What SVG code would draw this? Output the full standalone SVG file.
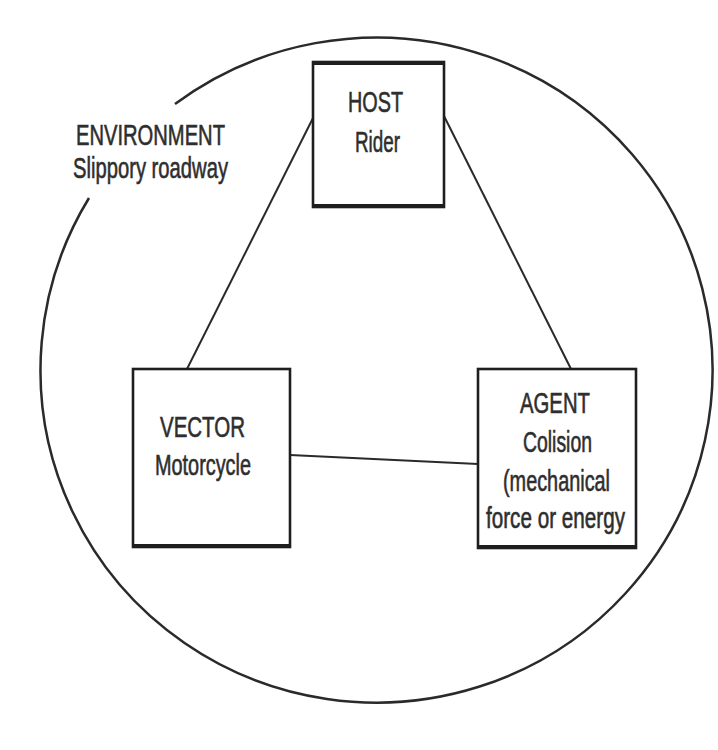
<svg xmlns="http://www.w3.org/2000/svg" width="718" height="750" viewBox="0 0 718 750">
<style>
  .box { fill: #ffffff; stroke: #1e1e1e; stroke-width: 2.6; }
  .edge { stroke: #1e1e1e; stroke-width: 4; }
  .conn { stroke: #2a2a2a; stroke-width: 2; fill: none; }
  .env { stroke: #2a2a2a; stroke-width: 2.5; fill: none; }
  text { font-family: "Liberation Sans", Arial, sans-serif; font-size: 29px; fill: #2e2e2e; stroke: #2e2e2e; stroke-width: 0.6; text-anchor: middle; }
</style>
<rect width="718" height="750" fill="#ffffff"/>
<g id="environment">
  <path class="env" d="M175,104 A336,332.5 0 1 1 89,198"/>
  <text x="150.5" y="145" textLength="149" lengthAdjust="spacingAndGlyphs">ENVIRONMENT</text>
  <text x="150.5" y="178" textLength="155" lengthAdjust="spacingAndGlyphs">Slippory roadway</text>
</g>
<g id="connectors">
  <line class="conn" x1="313" y1="118" x2="187" y2="369"/>
  <line class="conn" x1="444" y1="116" x2="571" y2="369"/>
  <line class="conn" x1="290" y1="455" x2="478" y2="464"/>
</g>
<g id="host">
  <rect class="box" x="313" y="62" width="131" height="145"/>
  <line class="edge" x1="312" y1="63" x2="445" y2="63"/>
  <line class="edge" x1="312" y1="206" x2="445" y2="206"/>
  <text x="375.5" y="112" textLength="55" lengthAdjust="spacingAndGlyphs">HOST</text>
  <text x="377.5" y="152" textLength="45" lengthAdjust="spacingAndGlyphs">Rider</text>
</g>
<g id="vector">
  <rect class="box" x="133" y="369" width="157" height="178"/>
  <line class="edge" x1="132" y1="546" x2="291" y2="546"/>
  <text x="202.5" y="437" textLength="85" lengthAdjust="spacingAndGlyphs">VECTOR</text>
  <text x="203" y="475" textLength="96" lengthAdjust="spacingAndGlyphs">Motorcycle</text>
</g>
<g id="agent">
  <rect class="box" x="478" y="369" width="158" height="179"/>
  <line class="edge" x1="477" y1="547" x2="637" y2="547"/>
  <text x="555" y="413" textLength="70" lengthAdjust="spacingAndGlyphs">AGENT</text>
  <text x="557.5" y="452" textLength="69" lengthAdjust="spacingAndGlyphs">Colision</text>
  <text x="556.5" y="491" textLength="107" lengthAdjust="spacingAndGlyphs">(mechanical</text>
  <text x="555.5" y="528" textLength="139" lengthAdjust="spacingAndGlyphs">force or energy</text>
</g>
</svg>
